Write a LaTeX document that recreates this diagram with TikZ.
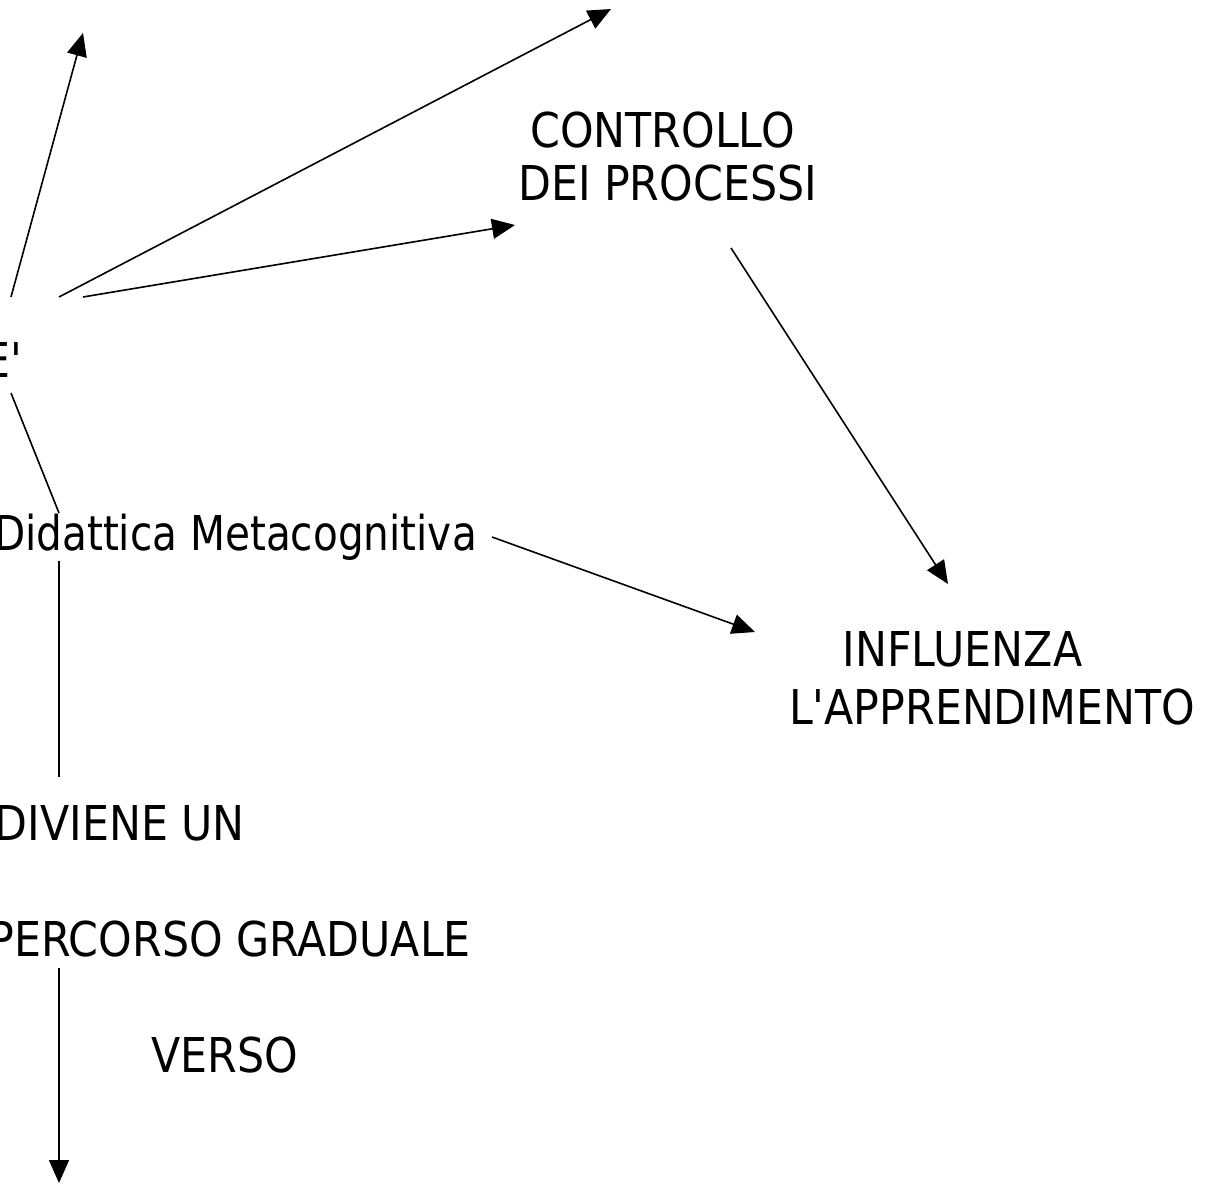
\documentclass[tikz,border=0pt]{standalone}
\usepackage{fontspec}
\newfontfamily\tah{DejaVu Sans}[FakeStretch=0.89]
\newfontfamily\tahn{DejaVu Sans}[FakeStretch=0.845]
\usetikzlibrary{arrows.meta}
\begin{document}
\begin{tikzpicture}[x=1pt,y=-1pt,
  lbl/.style={inner sep=0pt, font=\tah\fontsize{48}{56}\selectfont},
  lbln/.style={inner sep=0pt, font=\tahn\fontsize{48}{56}\selectfont},
  conn/.style={line width=1.6pt},
  arr/.style={conn,-{Triangle[length=23pt,width=20pt]}}]
\useasboundingbox (0,0) rectangle (1207,1184);
% texts
\node[lbl,anchor=base east] (eq) at (22,377) {E'};
\node[lbln,anchor=base east] (dm) at (477,550) {Didattica Metacognitiva};
\node[lbl,anchor=base] (c1) at (662.5,147) {CONTROLLO};
\node[lbl,anchor=base] (c2) at (667.5,200) {DEI PROCESSI};
\node[lbl,anchor=base] (i1) at (962.5,666) {INFLUENZA};
\node[lbl,anchor=base] (i2) at (992,724) {L'APPRENDIMENTO};
\node[lbl,anchor=base east] (dv) at (245,840) {DIVIENE UN};
\node[lbl,anchor=base east] (pg) at (471,956) {PERCORSO GRADUALE};
\node[lbl,anchor=base] (vs) at (224.5,1072) {VERSO};
% connector ends
\coordinate (a0) at (11,297);  \coordinate (a1) at (83,33);
\coordinate (b0) at (59,297);  \coordinate (b1) at (611,9);
\coordinate (c0) at (83,297);  \coordinate (c1e) at (515,225);
\coordinate (d0) at (11,393);  \coordinate (d1) at (59,513);
\coordinate (e0) at (492,537); \coordinate (e1) at (755,632);
\coordinate (f0) at (731,248); \coordinate (f1) at (948,584);
\coordinate (g0) at (59,561);  \coordinate (g1) at (59,777);
\coordinate (h0) at (59,968);  \coordinate (h1) at (59,1183);
% connectors
\draw[arr] (a0) -- (a1);
\draw[arr] (b0) -- (b1);
\draw[arr] (c0) -- (c1e);
\draw[conn] (d0) -- (d1);
\draw[arr] (e0) -- (e1);
\draw[arr] (f0) -- (f1);
\draw[conn] (g0) -- (g1);
\draw[arr] (h0) -- (h1);
\end{tikzpicture}
\end{document}
